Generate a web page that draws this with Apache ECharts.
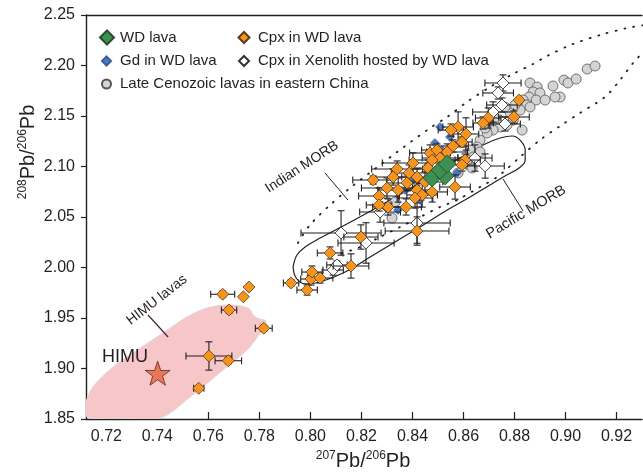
<!DOCTYPE html>
<html><head><meta charset="utf-8">
<script src="https://cdn.jsdelivr.net/npm/echarts@6/dist/echarts.min.js"></script>
<style>html,body{margin:0;padding:0;background:#fff}#c{width:643px;height:472px}</style>
</head><body><div id="c"></div>
<script>
// ---- axis ticks ----
const xTicks = [0.72,0.74,0.76,0.78,0.80,0.82,0.84,0.86,0.88,0.90,0.92];
const yTicks = [1.85,1.90,1.95,2.00,2.05,2.10,2.15,2.20,2.25];

// ---- WD lava (whole rock) ----
const wdX = [0.8477,0.8528,0.8508,0.8536];
const wdY = [2.0886,2.0906,2.0965,2.1025];

// ---- Gd in WD lava ----
const gdX = [0.8508,0.8547,0.8488,0.8516,0.8575,0.8402,0.8343,0.8461,0.8430,0.8371];
const gdY = [2.1391,2.1292,2.1233,2.1163,2.0936,2.0866,2.0569,2.1015,2.0668,2.0767];

// ---- Cpx in WD lava (with 2-sigma errors) ----
const cpxX = [0.8818,0.8798,0.8697,0.8677,0.8579,0.8551,0.8610,0.8594,0.8559,0.8536,
              0.8469,0.8496,0.8606,0.8594,0.8508,0.8477,0.8402,0.8461,0.8340,0.8387,
              0.8324,0.8246,0.8418,0.8449,0.8379,0.8300,0.8344,0.8418,0.8477,0.8567,
              0.8269,0.8438,0.8410,0.8304,0.8269,0.8375,0.8418,0.8198,0.8077,0.7924,
              0.7987,0.8002,0.8006,0.8038,0.8159,0.7656,0.7759,0.7737,0.7681,0.7817,
              0.7602,0.7678,0.7562];
const cpxY = [2.1658,2.1490,2.1480,2.1431,2.1391,2.1361,2.1322,2.1243,2.1203,2.1144,
              2.1134,2.1163,2.1064,2.1015,2.1084,2.1064,2.1035,2.0985,2.0975,2.0936,
              2.0896,2.0866,2.0896,2.0847,2.0837,2.0787,2.0767,2.0767,2.0748,2.0797,
              2.0708,2.0718,2.0688,2.0599,2.0619,2.0599,2.0361,2.0302,2.0144,1.9847,
              1.9777,1.9886,1.9955,1.9896,2.0015,1.9735,1.9807,1.9710,1.9579,1.9398,
              1.9124,1.9077,1.8804];
const cpxErrX = [0,0.006,0.005,0.004,0.006,0.005,0.005,0.004,0.006,0.008,
                 0.008,0.006,0.006,0.005,0.007,0.009,0.012,0.006,0.010,0.007,
                 0.008,0.008,0.006,0.007,0.008,0.010,0.008,0.006,0.006,0.006,
                 0.008,0.006,0.007,0.006,0.005,0.006,0.0125,0.0067,0.005,0.003,
                 0.004,0.004,0.004,0.005,0.007,0.0047,0,0,0.003,0.0033,
                 0.009,0.0052,0.002];
const cpxErrY = [0,0.006,0.010,0.006,0.015,0.006,0.016,0.005,0.006,0.008,
                 0.008,0.006,0.006,0.006,0.008,0.009,0.010,0.008,0.008,0.008,
                 0.008,0.004,0.008,0.010,0.008,0.010,0.012,0.010,0.010,0.012,
                 0.008,0.012,0.010,0.008,0.006,0.008,0.014,0.012,0.006,0.003,
                 0.005,0.006,0.006,0.005,0.012,0.003,0,0,0.003,0.003,
                 0.014,0.003,0.002];

// ---- Cpx in xenolith hosted by WD lava ----
const xenX = [0.8755,0.8736,0.8751,0.8716,0.8763,0.8645,0.8685,0.8418,0.8120,0.8218,0.8089,0.8104,0.8273];
const xenY = [2.1827,2.1728,2.1609,2.1540,2.1421,2.1084,2.1005,2.0440,2.0342,2.0243,1.9975,2.0025,2.0549];
const xenErrX = [0.0071,0.006,0.006,0.008,0.006,0.0067,0.0075,0.013,0.0157,0.011,0.004,0.004,0.008];
const xenErrY = [0.008,0.006,0.007,0.010,0.007,0.013,0.012,0.020,0.022,0.020,0.005,0.004,0.010];

// ---- Late Cenozoic lavas in eastern China ----
const lateX = [0.8861,0.8889,0.8873,0.8900,0.8857,0.8834,0.8849,0.8885,0.8951,0.8979,
               0.8959,0.8994,0.9010,0.9042,0.9085,0.9116,0.8822,0.8861,0.8830,0.8795,
               0.8771,0.8744,0.8716,0.8693,0.8665,0.8653,0.8626,0.8638,0.8614,0.8685,
               0.8704,0.8724,0.8783,0.8802,0.8332,0.8320,0.8665,0.8634,0.8579,0.8763,0.8920];
const lateY = [2.1827,2.1787,2.1738,2.1728,2.1688,2.1658,2.1609,2.1658,2.1797,2.1688,
               2.1688,2.1856,2.1827,2.1866,2.1965,2.1995,2.1559,2.1589,2.1361,2.1460,
               2.1411,2.1391,2.1361,2.1332,2.1262,2.1193,2.1163,2.1094,2.1064,2.1381,
               2.1460,2.1480,2.1530,2.1609,2.0649,2.0490,2.1144,2.0985,2.0936,2.1589,2.1658];

// ---- HIMU end-member ----
const himuX = [0.7401];
const himuY = [1.8953];

// ---- fields (outlines in data units) ----
const himuFieldX = [0.7123,0.7253,0.7410,0.7528,0.7657,0.7751,0.7810,0.7826,0.7802,0.7779,0.7755,0.7677,0.7595,0.7516,0.7438,0.7332,0.7226,0.7147,0.7120];
const himuFieldY = [1.8523,1.8510,1.8510,1.8718,1.8985,1.9183,1.9381,1.9470,1.9490,1.9520,1.9600,1.9629,1.9600,1.9510,1.9380,1.9200,1.9015,1.8817,1.8660];

const pacX = [0.7932,0.7947,0.7979,0.8038,0.8128,0.8222,0.8312,0.8402,0.8508,0.8606,0.8685,0.8744,0.8791,0.8822,0.8842,0.8842,0.8818,0.8763,0.8704,0.8626,0.8536,0.8430,0.8351,0.8234,0.8136,0.8038,0.7979,0.7944,0.7932];
const pacY = [2.0005,2.0124,2.0203,2.0292,2.0411,2.0540,2.0668,2.0797,2.0965,2.1114,2.1223,2.1282,2.1302,2.1262,2.1163,2.1064,2.0985,2.0906,2.0817,2.0698,2.0569,2.0401,2.0282,2.0104,1.9955,1.9856,1.9837,1.9896,2.0005];

const indUpX = [0.7951,0.7998,0.8077,0.8155,0.8273,0.8340,0.8469,0.8536,0.8614,0.8704,0.8794,0.8873,0.8928,0.9030,0.9136,0.9242,0.9312];
const indUpY = [2.0243,2.0421,2.0619,2.0787,2.1015,2.1144,2.1381,2.1490,2.1639,2.1787,2.1916,2.2015,2.2094,2.2213,2.2302,2.2371,2.2401];
const indLoX = [0.9312,0.9265,0.9214,0.9155,0.9057,0.8979,0.8900,0.8822,0.8732,0.8665,0.8575,0.8508,0.8430,0.8351,0.8273,0.8195,0.8116];
const indLoY = [2.2153,2.2025,2.1856,2.1688,2.1530,2.1401,2.1262,2.1094,2.0896,2.0797,2.0668,2.0599,2.0500,2.0401,2.0302,2.0203,2.0134];

// leader lines for field labels
const leadIndX = [0.8057,0.8147], leadIndY = [2.0936,2.0668];
const leadPacX = [0.8755,0.8834], leadPacY = [2.0876,2.0559];
const leadHimuX = [0.7363,0.7442], leadHimuY = [1.9530,1.9312];

// ---------------------------------------------------------------
const FONT = 'Liberation Sans, Arial, Helvetica, sans-serif';
const INK = '#231f20';
const zip = (a, b, c, d) => a.map((v, i) => d ? [v, b[i], c[i], d[i]] : [v, b[i]]);

function errRender(params, api) {
  const x = api.value(0), y = api.value(1), ex = api.value(2), ey = api.value(3);
  const c = api.coord([x, y]);
  const cap = 3.5;
  const segs = [];
  if (ex > 0) {
    const l = api.coord([x - ex, y])[0], r = api.coord([x + ex, y])[0];
    segs.push([l, c[1], r, c[1]], [l, c[1] - cap, l, c[1] + cap], [r, c[1] - cap, r, c[1] + cap]);
  }
  if (ey > 0) {
    const t = api.coord([x, y + ey])[1], b = api.coord([x, y - ey])[1];
    segs.push([c[0], t, c[0], b], [c[0] - cap, t, c[0] + cap, t], [c[0] - cap, b, c[0] + cap, b]);
  }
  return {
    type: 'group',
    children: segs.map(s => ({ type: 'line', shape: { x1: s[0], y1: s[1], x2: s[2], y2: s[3] },
      style: { stroke: INK, lineWidth: 1.1 } }))
  };
}

function fieldRender(params, api) {
  if (params.dataIndex !== 0) return null;
  const pts = himuFieldX.map((x, i) => api.coord([x, himuFieldY[i]]));
  return { type: 'polygon', shape: { points: pts, smooth: 0.35 },
    style: { fill: '#f7c6c9', stroke: '#e3d6d6', lineWidth: 1 } };
}

const starPath = 'path://M50,0 L61.8,35.1 L97.6,34.5 L68.8,56 L79.4,90.5 L50,69.8 L20.6,90.5 L31.2,56 L2.4,34.5 L38.2,35.1 Z';

const lineSeries = (name, xs, ys, extra) => Object.assign({
  type: 'line', name, data: zip(xs, ys), showSymbol: false, symbol: 'none',
  silent: true, z: 2, clip: true,
  lineStyle: { color: INK, width: 1.2 }
}, extra || {});

function legendItem(name, cx, cy, s, pad) {
  return {
    data: [name], left: cx - s / 2, top: cy - 8, itemWidth: s, itemHeight: s, selectedMode: false,
    padding: 0, symbolKeepAspect: true,
    textStyle: { fontFamily: FONT, fontSize: 15, color: INK, lineHeight: 16, padding: [0, 0, 0, pad] }
  };
}

const option = {
  animation: false,
  backgroundColor: '#fff',
  grid: { left: 86, top: 15, width: 556, height: 404, containLabel: false },
  legend: [
    legendItem('WD lava', 106, 37.5, 14, 1),
    legendItem('Cpx in WD lava', 243, 37.5, 11, 3.5),
    legendItem('Gd in WD lava', 105.5, 61, 9, 4),
    legendItem('Cpx in Xenolith hosted by WD lava', 243, 61, 10, 4),
    legendItem('Late Cenozoic lavas in eastern China', 105.5, 84, 9, 4)
  ],
  xAxis: [{
    type: 'value', min: 0.712, max: 0.93, position: 'bottom',
    axisLine: { show: true, onZero: false, lineStyle: { color: INK, width: 1.4 } },
    axisTick: { show: true, inside: true, length: 7, customValues: xTicks, lineStyle: { color: INK, width: 1.2 } },
    axisLabel: { customValues: xTicks, margin: 10, fontFamily: FONT, fontSize: 16, color: INK,
      formatter: v => v.toFixed(2) },
    splitLine: { show: false }
  }, {
    type: 'value', min: 0.712, max: 0.93, position: 'top',
    axisLine: { show: true, onZero: false, lineStyle: { color: INK, width: 1.4 } },
    axisTick: { show: false }, axisLabel: { show: false }, splitLine: { show: false }
  }],
  yAxis: [{
    type: 'value', min: 1.85, max: 2.25, interval: 0.05,
    axisLine: { show: true, onZero: false, lineStyle: { color: INK, width: 1.4 } },
    axisTick: { show: true, inside: false, length: 5, lineStyle: { color: INK, width: 1.2 } },
    axisLabel: { margin: 11, fontFamily: FONT, fontSize: 16, color: INK, formatter: v => v.toFixed(2) },
    splitLine: { show: false }
  }],
  series: [
    { type: 'custom', name: 'HIMU field', renderItem: fieldRender, data: zip(himuFieldX, himuFieldY),
      encode: { x: 0, y: 1 }, z: 1, silent: true, clip: true },
    lineSeries('Indian MORB upper', indUpX, indUpY, { smooth: 0.3,
      lineStyle: { color: INK, width: 1.8, type: [1, 8], cap: 'round' } }),
    lineSeries('Indian MORB lower', indLoX, indLoY, { smooth: 0.3,
      lineStyle: { color: INK, width: 1.8, type: [1, 8], cap: 'round' } }),
    lineSeries('Pacific MORB', pacX, pacY, { smooth: 0.4 }),
    lineSeries('lead1', leadIndX, leadIndY, { lineStyle: { color: INK, width: 1 } }),
    lineSeries('lead2', leadPacX, leadPacY, { lineStyle: { color: INK, width: 1 } }),
    lineSeries('lead3', leadHimuX, leadHimuY, { lineStyle: { color: '#4b2142', width: 1.2 } }),
    { type: 'scatter', name: 'Late Cenozoic lavas in eastern China', data: zip(lateX, lateY),
      symbol: 'circle', symbolSize: 10, z: 3,
      itemStyle: { color: '#d4d4d4', borderColor: '#555', borderWidth: 0.8, opacity: 1 } },
    { type: 'scatter', name: 'Gd in WD lava', data: zip(gdX, gdY), symbol: 'diamond', symbolSize: 9, z: 4,
      itemStyle: { color: '#4a78c2', borderColor: '#3a5f9a', borderWidth: 0.5, opacity: 1 } },
    { type: 'custom', name: 'xen err', renderItem: errRender, data: zip(xenX, xenY, xenErrX, xenErrY),
      encode: { x: 0, y: 1 }, z: 5, silent: true },
    { type: 'scatter', name: 'Cpx in Xenolith hosted by WD lava', data: zip(xenX, xenY),
      symbol: 'diamond', symbolSize: 12, z: 6,
      itemStyle: { color: '#ffffff', borderColor: '#333', borderWidth: 0.9, opacity: 1 } },
    { type: 'custom', name: 'cpx err', renderItem: errRender, data: zip(cpxX, cpxY, cpxErrX, cpxErrY),
      encode: { x: 0, y: 1 }, z: 7, silent: true },
    { type: 'scatter', name: 'Cpx in WD lava', data: zip(cpxX, cpxY), symbol: 'diamond', symbolSize: 12, z: 8,
      itemStyle: { color: '#f7941d', borderColor: '#5b3b1c', borderWidth: 0.8, opacity: 1 } },
    { type: 'scatter', name: 'WD lava', data: zip(wdX, wdY), symbol: 'diamond', symbolSize: 18, z: 9,
      itemStyle: { color: '#3d8f52', borderColor: '#264d30', borderWidth: 0.8, opacity: 1 } },
    { type: 'scatter', name: 'HIMU', data: zip(himuX, himuY), symbol: starPath, symbolSize: [25, 24], z: 9,
      itemStyle: { color: '#e8775a', borderColor: '#5a2a20', borderWidth: 0.8, opacity: 1 } }
  ],
  graphic: [
    { type: 'text', x: 363, y: 461, z: 100,
      style: { text: '{s|207}{m|Pb/}{s|206}{m|Pb}', align: 'center', verticalAlign: 'middle',
        rich: { s: { fontFamily: FONT, fontSize: 12, fill: INK, verticalAlign: 'top', lineHeight: 22 },
                m: { fontFamily: FONT, fontSize: 20, fill: INK, lineHeight: 22 } } } },
    { type: 'text', x: 28, y: 152, rotation: Math.PI / 2, z: 100,
      style: { text: '{s|208}{m|Pb/}{s|206}{m|Pb}', align: 'center', verticalAlign: 'middle',
        rich: { s: { fontFamily: FONT, fontSize: 12, fill: INK, verticalAlign: 'top', lineHeight: 22 },
                m: { fontFamily: FONT, fontSize: 20, fill: INK, lineHeight: 22 } } } },
    { type: 'text', x: 125, y: 357, z: 100,
      style: { text: 'HIMU', fontFamily: FONT, fontSize: 18, fill: INK, align: 'center', verticalAlign: 'middle' } },
    { type: 'text', x: 157, y: 300, rotation: 38 * Math.PI / 180, z: 100,
      style: { text: 'HIMU lavas', fontFamily: FONT, fontSize: 14, fill: INK, align: 'center', verticalAlign: 'middle' } },
    { type: 'text', x: 302, y: 167, rotation: 33 * Math.PI / 180, z: 100,
      style: { text: 'Indian MORB', fontFamily: FONT, fontSize: 14, fill: INK, align: 'center', verticalAlign: 'middle' } },
    { type: 'text', x: 526, y: 212, rotation: 31 * Math.PI / 180, z: 100,
      style: { text: 'Pacific MORB', fontFamily: FONT, fontSize: 14.5, fill: INK, align: 'center', verticalAlign: 'middle' } }
  ]
};

const chart = echarts.init(document.getElementById('c'), null, { renderer: 'canvas' });
chart.setOption(option);
</script>
</body></html>
